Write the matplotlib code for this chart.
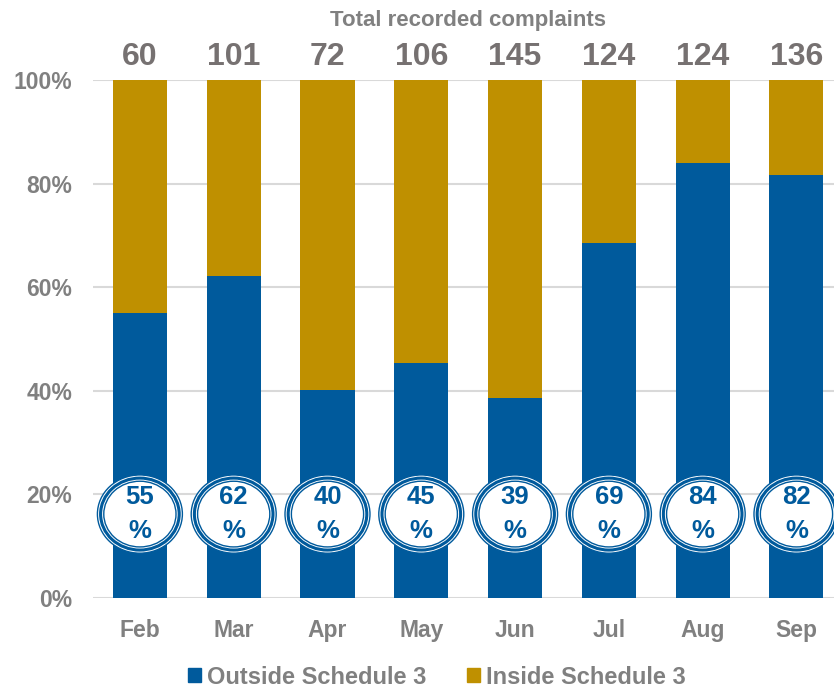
import numpy as np
import matplotlib
matplotlib.use("Agg")
import matplotlib.pyplot as plt
from matplotlib.patches import Ellipse, Patch

plt.rcParams['font.family'] = ['Liberation Sans', 'DejaVu Sans']
plt.rcParams['font.weight'] = 'bold'

months = ['Feb', 'Mar', 'Apr', 'May', 'Jun', 'Jul', 'Aug', 'Sep']
totals = [60, 101, 72, 106, 145, 124, 124, 136]
outside = [55.0, 62.2, 40.2, 45.3, 38.6, 68.6, 83.9, 81.6]
inside = [100 - v for v in outside]

blue = '#005A9C'
gold = '#BF9000'
grey = '#808080'
dark_grey = '#767171'

fig = plt.figure(figsize=(8.34, 6.88), dpi=100)
ax = fig.add_axes([93 / 834, 90 / 688, 741 / 834, 518 / 688])

x = np.arange(len(months))
ax.bar(x, outside, width=0.576, color=blue, zorder=2)
ax.bar(x, inside, bottom=outside, width=0.576, color=gold, zorder=2)

ax.set_xlim(-0.5, 7.4)
ax.set_ylim(0, 100)
ax.set_yticks(range(0, 101, 20))
ax.set_yticklabels([f'{v}%' for v in range(0, 101, 20)])
ax.set_xticks(x)
ax.set_xticklabels(months)
ax.tick_params(axis='y', length=0, pad=15, labelsize=16.5, labelcolor=grey)
ax.tick_params(axis='x', length=0, pad=15, labelsize=16.5, labelcolor=grey)
ax.grid(axis='y', color='#D9D9D9', lw=1.5, zorder=0)
for s in ax.spines.values():
    s.set_visible(False)

# circles with percentage
cy = 16.2
w, h = 0.906, 15.1
for i, v in enumerate(outside):
    ax.add_patch(Ellipse((i, cy), w, h, facecolor='white', edgecolor=blue, lw=1.0, zorder=3))
    ax.add_patch(Ellipse((i, cy), w * 0.925, h * 0.92, facecolor='white', edgecolor=blue, lw=2.2, zorder=3))
    ax.add_patch(Ellipse((i, cy), w * 0.85, h * 0.84, facecolor='white', edgecolor=blue, lw=1.0, zorder=3))
    ax.text(i, cy, f'{round(v)}\n%', ha='center', va='center', color=blue,
            fontsize=18.5, fontweight='bold', linespacing=1.55, zorder=4)

for i, t in enumerate(totals):
    ax.text(i, 104.4, str(t), ha='center', va='center', color=dark_grey,
            fontsize=23, fontweight='bold', clip_on=False)
ax.text(3.5, 111.4, 'Total recorded complaints', ha='center', va='center',
        color=grey, fontsize=16, fontweight='bold', clip_on=False)

handles = [Patch(color=blue, label='Outside Schedule 3'),
           Patch(color=gold, label='Inside Schedule 3')]
fig.legend(handles=handles, loc='center', bbox_to_anchor=(437 / 834, 1 - 677 / 688),
           ncol=2, frameon=False, handlelength=0.55, handleheight=0.55,
           handletextpad=0.25, columnspacing=1.7,
           prop={'size': 17, 'weight': 'bold'}, labelcolor=grey)

fig.savefig('out.png', dpi=100)
